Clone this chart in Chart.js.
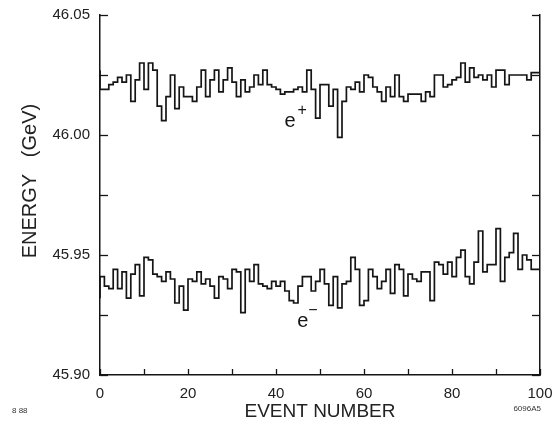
<!DOCTYPE html>
<html><head><meta charset="utf-8">
<script src="https://cdn.jsdelivr.net/npm/chart.js@4.4.1/dist/chart.umd.min.js"></script>
<style>html,body{margin:0;padding:0;background:#fff}</style>
</head><body>
<canvas id="c" width="552" height="430" style="width:552px;height:430px;display:block"></canvas>
<script>
// ---- data ----
const binStarts = [0,1,2,3,4,5,6,7,8,9,10,11,12,13,14,15,16,17,18,19,20,21,22,23,24,25,26,27,28,29,30,31,32,33,34,35,36,37,38,39,40,41,42,43,44,45,46,47,48,49,50,51,52,53,54,55,56,57,58,59,60,61,62,63,64,65,66,67,68,69,70,71,72,73,74,75,76,77,78,79,80,81,82,83,84,85,86,87,88,89,90,91,92,93,94,95,96,97,98,99];
const ePlus = [46.027,46.019,46.019,46.021,46.022,46.024,46.022,46.025,46.014,46.023,
  46.030,46.019,46.030,46.027,46.012,46.006,46.016,46.025,46.011,46.020,
  46.016,46.016,46.014,46.020,46.027,46.016,46.023,46.027,46.018,46.023,
  46.028,46.022,46.016,46.023,46.018,46.020,46.025,46.021,46.027,46.021,
  46.020,46.019,46.017,46.018,46.018,46.019,46.020,46.018,46.027,46.019,
  46.007,46.021,46.021,46.012,46.019,45.999,46.014,46.020,46.019,46.022,
  46.018,46.025,46.024,46.020,46.018,46.014,46.020,46.016,46.025,46.016,
  46.014,46.017,46.017,46.017,46.014,46.018,46.016,46.025,46.025,46.020,
  46.021,46.023,46.024,46.030,46.022,46.028,46.024,46.025,46.023,46.025,
  46.020,46.027,46.027,46.021,46.025,46.025,46.025,46.025,46.023,46.026];
const eMinus = [45.932,45.941,45.937,45.936,45.944,45.936,45.943,45.932,45.942,45.946,
  45.933,45.949,45.948,45.942,45.941,45.939,45.943,45.940,45.930,45.937,
  45.927,45.940,45.939,45.943,45.938,45.940,45.937,45.932,45.941,45.940,
  45.936,45.944,45.943,45.926,45.944,45.939,45.946,45.938,45.937,45.936,
  45.939,45.937,45.939,45.935,45.931,45.930,45.937,45.941,45.941,45.935,
  45.939,45.944,45.938,45.929,45.941,45.928,45.938,45.939,45.949,45.944,
  45.929,45.931,45.944,45.941,45.936,45.939,45.944,45.934,45.946,45.944,
  45.933,45.942,45.940,45.939,45.943,45.943,45.931,45.947,45.946,45.942,
  45.947,45.941,45.949,45.952,45.941,45.938,45.947,45.960,45.943,45.946,
  45.946,45.961,45.939,45.949,45.951,45.959,45.944,45.950,45.948,45.944];
const xTickLabels = ['0','20','40','60','80','100'];
const yTickLabels = ['45.90','45.95','46.00','46.05'];

const FF = '"Liberation Sans", Arial, Helvetica, sans-serif';
const INK = '#151515';

function steps(vals){
  const pts = binStarts.map((x,i)=>({x:x, y:vals[i]}));
  pts.push({x: binStarts[binStarts.length-1]+1, y: vals[vals.length-1]});
  return pts;
}

const decor = {
  id:'decor',
  afterDraw(chart){
    const {ctx, chartArea:a, scales} = chart;
    const xs = scales.x, ys = scales.y;
    ctx.save();
    ctx.strokeStyle = INK; ctx.lineWidth = 1.3;
    [45.90,45.925,45.95,45.975,46.00,46.025,46.05].forEach(v=>{
      const py = Math.round(ys.getPixelForValue(v))+0.5;
      ctx.beginPath(); ctx.moveTo(a.left,py); ctx.lineTo(a.left+8,py); ctx.stroke();
      ctx.beginPath(); ctx.moveTo(a.right,py); ctx.lineTo(a.right-8,py); ctx.stroke();
    });
    [0,10,20,30,40,50,60,70,80,90,100].forEach(v=>{
      const px = Math.round(xs.getPixelForValue(v))+0.5;
      ctx.beginPath(); ctx.moveTo(px,a.bottom); ctx.lineTo(px,a.bottom-6); ctx.stroke();
    });
    ctx.fillStyle = INK; ctx.textAlign='center'; ctx.textBaseline='middle';
    let px = xs.getPixelForValue(43.2), py = ys.getPixelForValue(46.0058);
    ctx.font = '20px '+FF; ctx.fillText('e', px, py);
    ctx.font = '16px '+FF; ctx.fillText('+', px+12, py-10);
    px = xs.getPixelForValue(46.1); py = ys.getPixelForValue(45.9221);
    ctx.font = '20px '+FF; ctx.fillText('e', px, py);
    ctx.font = '16px '+FF; ctx.fillText('\u2212', px+10, py-11);
    ctx.font = '8px '+FF; ctx.fillStyle='#333';
    ctx.textAlign='left'; ctx.fillText('8 88', 12, 411);
    ctx.textAlign='right'; ctx.fillText('6096A5', 541, 409);
    ctx.restore();
  }
};

new Chart(document.getElementById('c'), {
  type:'line',
  data:{ datasets:[
    {label:'e+', data:steps(ePlus), stepped:'after', borderColor:INK, borderWidth:1.7, pointRadius:0, fill:false},
    {label:'e-', data:steps(eMinus), stepped:'after', borderColor:INK, borderWidth:1.7, pointRadius:0, fill:false}
  ]},
  options:{
    responsive:false, animation:false, devicePixelRatio:1,
    layout:{padding:{top:15,right:12,left:0,bottom:0}},
    plugins:{legend:{display:false}, tooltip:{enabled:false}},
    scales:{
      x:{type:'linear', min:0, max:100,
        grid:{display:false, drawTicks:false},
        border:{display:true, color:INK, width:1.5},
        ticks:{stepSize:20, padding:10, maxRotation:0, color:'#222', font:{size:15,family:FF},
          callback:(v)=>{const i=[0,20,40,60,80,100].indexOf(v); return i>=0?xTickLabels[i]:'';}},
        title:{display:true, text:'EVENT NUMBER', color:'#222', font:{size:19,family:FF}, padding:{top:0,bottom:7}},
        afterFit(s){ s.height = 55; s.paddingLeft = 0; s.paddingRight = 0; }
      },
      y:{min:45.90, max:46.05,
        grid:{display:false, drawTicks:false},
        border:{display:true, color:INK, width:1.5},
        ticks:{stepSize:0.05, padding:10, color:'#222', font:{size:15,family:FF},
          callback:(v)=>{const s=Number(v).toFixed(2); return yTickLabels.includes(s)?s:'';}},
        title:{display:true, text:'     ENERGY   (GeV)', color:'#222', font:{size:20,family:FF}, padding:{top:18,bottom:0}},
        afterFit(s){ s.width = 100; s.paddingTop = 0; s.paddingBottom = 0; }
      },
      yR:{position:'right', min:45.90, max:46.05,
        grid:{display:false, drawTicks:false},
        border:{display:true, color:INK, width:1.5},
        ticks:{display:false},
        afterFit(s){ s.width = 0; s.paddingTop = 0; s.paddingBottom = 0; }
      }
    }
  },
  plugins:[decor]
});
</script>
</body></html>
